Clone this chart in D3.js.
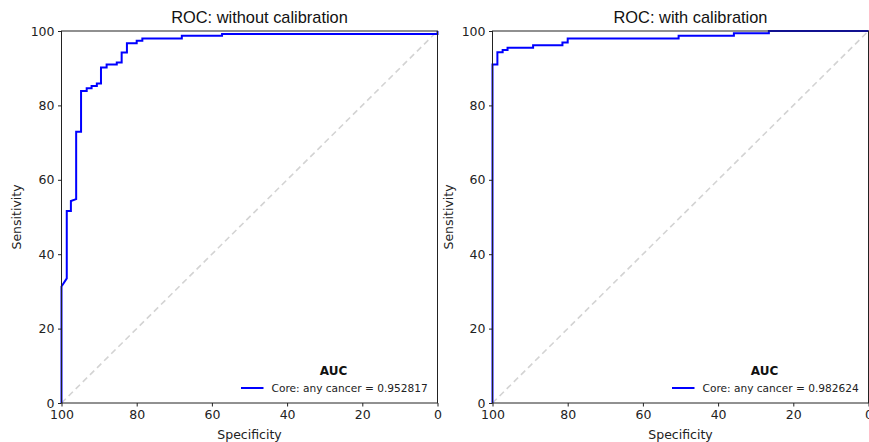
<!DOCTYPE html>
<html>
<head>
<meta charset="utf-8">
<script src="https://cdn.jsdelivr.net/npm/d3@7"></script>
<style>
  body { margin: 0; background: #fff; }
  .tick text { font-family: "DejaVu Sans", sans-serif; font-size: 12.5px; fill: #222; }
  .tick line, .domain { stroke: #222; }
</style>
</head>
<body>
<div id="chart"></div>
<script>
// ROC points (specificity, sensitivity in %)
var specNoCal = [100, 100, 98.6, 98.6, 97.5, 97.5, 96.1, 96.1, 94.8, 94.8, 93.3, 93.3, 92.0, 92.0, 90.6, 90.6,
                 89.5, 89.5, 88.0, 88.0, 85.3, 85.3, 84.0, 84.0, 82.6, 82.6, 80.0, 80.0, 78.5, 78.5,
                 68.0, 68.0, 57.3, 57.3, 0, 0];
var sensNoCal = [0, 31.3, 33.5, 51.6, 51.6, 54.3, 54.8, 72.9, 72.9, 83.9, 83.9, 84.6, 84.6, 85.2, 85.2, 85.9,
                 85.9, 90.2, 90.2, 91.0, 91.0, 91.5, 91.5, 94.2, 94.2, 96.7, 96.7, 97.4, 97.4, 98.0,
                 98.0, 98.7, 98.7, 99.2, 99.2, 100];

var specCal = [100, 100, 98.7, 98.7, 97.3, 97.3, 96.0, 96.0, 89.2, 89.2, 81.4, 81.4, 80.0, 80.0,
               50.5, 50.5, 35.8, 35.8, 26.5, 26.5, 0];
var sensCal = [0, 91.0, 91.0, 94.3, 94.3, 94.9, 94.9, 95.5, 95.5, 96.2, 96.2, 96.9, 96.9, 98.0,
               98.0, 98.7, 98.7, 99.4, 99.4, 100, 100];

var titles = ["ROC: without calibration", "ROC: with calibration"];
var aucLabels = ["Core: any cancer = 0.952817", "Core: any cancer = 0.982624"];
var ticks = [100, 80, 60, 40, 20, 0];

var width = 376, height = 372;

var svg = d3.select("#chart")
  .append("svg")
    .attr("width", 869)
    .attr("height", 442);

function drawPanel(left, title, spec, sens, aucLabel, ylabX) {
  var g = svg.append("g")
    .attr("transform", "translate(" + left + ",31)");

  var x = d3.scaleLinear().domain([100, 0]).range([0, width]);
  var y = d3.scaleLinear().domain([0, 100]).range([height, 0]);

  // diagonal reference
  g.append("line")
    .attr("x1", x(100)).attr("y1", y(0))
    .attr("x2", x(0)).attr("y2", y(100))
    .attr("stroke", "#d3d3d3")
    .attr("stroke-width", 1.6)
    .attr("stroke-dasharray", "6,4");

  // roc curve
  var pts = spec.map(function(s, i) { return [s, sens[i]]; });
  g.append("path")
    .datum(pts)
    .attr("fill", "none")
    .attr("stroke", "#0000ff")
    .attr("stroke-width", 2)
    .attr("d", d3.line()
      .x(function(d) { return x(d[0]); })
      .y(function(d) { return y(d[1]); }));

  // frame
  g.append("rect")
    .attr("width", width).attr("height", height)
    .attr("fill", "none").attr("stroke", "#222").attr("stroke-width", 1);

  g.append("g")
    .attr("transform", "translate(0," + height + ")")
    .call(d3.axisBottom(x).tickValues(ticks).tickSize(3.5).tickPadding(3.5))
    .call(function(a) { a.select(".domain").remove(); });

  g.append("g")
    .call(d3.axisLeft(y).tickValues(ticks).tickSize(3.5).tickPadding(3.5))
    .call(function(a) { a.select(".domain").remove(); });

  // titles and labels
  g.append("text")
    .attr("x", width / 2 + 10).attr("y", -8)
    .attr("text-anchor", "middle")
    .style("font-family", "Liberation Sans, Arial, sans-serif")
    .style("font-size", "16.4px")
    .attr("fill", "#111")
    .text(title);

  g.append("text")
    .attr("x", width / 2).attr("y", height + 36)
    .attr("text-anchor", "middle")
    .style("font-family", "DejaVu Sans, sans-serif")
    .style("font-size", "12.5px")
    .attr("fill", "#222")
    .text("Specificity");

  g.append("text")
    .attr("transform", "translate(" + ylabX + "," + (height / 2) + ")rotate(-90)")
    .attr("text-anchor", "middle")
    .style("font-family", "DejaVu Sans, sans-serif")
    .style("font-size", "12.5px")
    .attr("fill", "#222")
    .text("Sensitivity");

  // legend
  g.append("text")
    .attr("x", 272).attr("y", 343.5)
    .attr("text-anchor", "middle")
    .style("font-family", "DejaVu Sans, sans-serif")
    .style("font-size", "12px")
    .style("font-weight", "bold")
    .attr("fill", "#111")
    .text("AUC");

  g.append("line")
    .attr("x1", 179.5).attr("x2", 202)
    .attr("y1", 357).attr("y2", 357)
    .attr("stroke", "#0000ff").attr("stroke-width", 2);

  g.append("text")
    .attr("x", 210).attr("y", 360.8)
    .style("font-family", "DejaVu Sans, sans-serif")
    .style("font-size", "10.6px")
    .attr("fill", "#222")
    .text(aucLabel);
}

drawPanel(61.5, titles[0], specNoCal, sensNoCal, aucLabels[0], -40.5);
drawPanel(492.5, titles[1], specCal, sensCal, aucLabels[1], -40);
</script>
</body>
</html>
